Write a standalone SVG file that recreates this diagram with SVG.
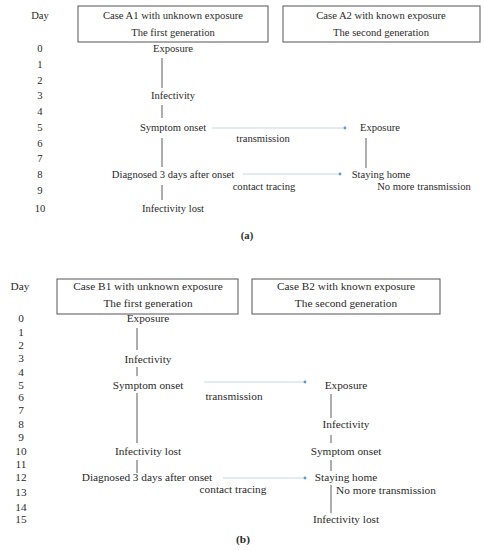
<svg xmlns="http://www.w3.org/2000/svg" width="484" height="550" viewBox="0 0 484 550">
<defs>
<style>
text{font-family:"Liberation Serif","DejaVu Serif",serif;fill:#2a2a2a;text-anchor:middle}
.a text{font-size:10.6px}
.b text{font-size:11.3px}
.box{fill:#fff;stroke:#555;stroke-width:1}
.vl{stroke:#777;stroke-width:1.2;fill:none}
.arr{stroke:#c9d6e3;stroke-width:1;fill:none;marker-end:url(#dot)}
.cap{font-weight:bold}
</style>
<marker id="dot" viewBox="0 0 4 4" refX="2" refY="2" markerWidth="4" markerHeight="4" markerUnits="userSpaceOnUse">
<circle cx="2" cy="2" r="1.4" fill="#5b9bd5"/>
</marker>
</defs>
<rect width="484" height="550" fill="#fff"/>

<g class="a">
<g id="a-days">
<text x="40" y="19">Day</text>
<text x="40" y="51.5">0</text>
<text x="40" y="67.5">1</text>
<text x="40" y="83.5">2</text>
<text x="40" y="98.5">3</text>
<text x="40" y="114.5">4</text>
<text x="40" y="130.5">5</text>
<text x="40" y="146.5">6</text>
<text x="40" y="161.5">7</text>
<text x="40" y="177.5">8</text>
<text x="40" y="193.5">9</text>
<text x="40" y="211.5">10</text>
</g>
<g id="a1-box"><rect class="box" x="78" y="6" width="190" height="36"/><text x="173" y="19">Case A1 with unknown exposure</text><text x="173" y="36">The first generation</text></g>
<g id="a2-box"><rect class="box" x="283" y="6" width="197" height="36"/><text x="381" y="19">Case A2 with known exposure</text><text x="381" y="36">The second generation</text></g>
<g id="a1-exposure"><text x="173" y="51.5">Exposure</text></g>
<g id="a1-infectivity"><text x="173" y="98.5">Infectivity</text></g>
<g id="a1-onset"><text x="173" y="130.5">Symptom onset</text></g>
<g id="a1-diagnosed"><text x="173" y="177.5">Diagnosed 3 days after onset</text></g>
<g id="a1-lost"><text x="173" y="211.5">Infectivity lost</text></g>
<g id="a2-exposure"><text x="380" y="130.5">Exposure</text></g>
<g id="a2-home"><text x="381" y="177.5">Staying home</text></g>
<g id="a2-nomore"><text x="424" y="189.5">No more transmission</text></g>
<g id="a-transmission-label"><text x="263" y="141.5">transmission</text></g>
<g id="a-tracing-label"><text x="264" y="189.5">contact tracing</text></g>
<g id="a-caption"><text class="cap" x="247" y="239">(a)</text></g>
</g>

<g class="b">
<g id="b-days">
<text x="20" y="290">Day</text>
<text x="21" y="322">0</text>
<text x="21" y="336">1</text>
<text x="21" y="349">2</text>
<text x="21" y="362">3</text>
<text x="21" y="376">4</text>
<text x="21" y="389">5</text>
<text x="21" y="401">6</text>
<text x="21" y="414">7</text>
<text x="21" y="428">8</text>
<text x="21" y="441">9</text>
<text x="21" y="455">10</text>
<text x="21" y="468">11</text>
<text x="21" y="481">12</text>
<text x="21" y="496">13</text>
<text x="21" y="511">14</text>
<text x="21" y="523">15</text>
</g>
<g id="b1-box"><rect class="box" x="57" y="279" width="181" height="35"/><text x="148" y="290">Case B1 with unknown exposure</text><text x="148" y="307">The first generation</text></g>
<g id="b2-box"><rect class="box" x="252" y="279" width="188" height="35"/><text x="346" y="290">Case B2 with known exposure</text><text x="346" y="307">The second generation</text></g>
<g id="b1-exposure"><text x="148" y="321.7">Exposure</text></g>
<g id="b1-infectivity"><text x="148" y="362.7">Infectivity</text></g>
<g id="b1-onset"><text x="148" y="388.7">Symptom onset</text></g>
<g id="b1-lost"><text x="148" y="454.7">Infectivity lost</text></g>
<g id="b1-diagnosed"><text x="147" y="480.7">Diagnosed 3 days after onset</text></g>
<g id="b2-exposure"><text x="346" y="388.7">Exposure</text></g>
<g id="b2-infectivity"><text x="346" y="427.7">Infectivity</text></g>
<g id="b2-onset"><text x="346" y="454.7">Symptom onset</text></g>
<g id="b2-home"><text x="346" y="480.5">Staying home</text></g>
<g id="b2-nomore"><text x="386" y="494">No more transmission</text></g>
<g id="b2-lost"><text x="346" y="522.7">Infectivity lost</text></g>
<g id="b-transmission-label"><text x="234" y="399.7">transmission</text></g>
<g id="b-tracing-label"><text x="233" y="492.7">contact tracing</text></g>
<g id="b-caption"><text class="cap" x="243" y="543">(b)</text></g>
</g>

<g id="connectors">
<path class="vl" d="M162 58V88M162 105V118M162 138V167M162 185V200"/>
<path class="vl" d="M366 138V168"/>
<path class="arr" d="M212 128H345"/>
<path class="arr" d="M243 174H340"/>
<path class="vl" d="M137 328V350M137 367V376M137 393V443M137 460V473"/>
<path class="vl" d="M331 394V418M331 435V443M331 460V471M331 485V513"/>
<path class="arr" d="M204 382H305"/>
<path class="arr" d="M223 478H305"/>
</g>
</svg>
